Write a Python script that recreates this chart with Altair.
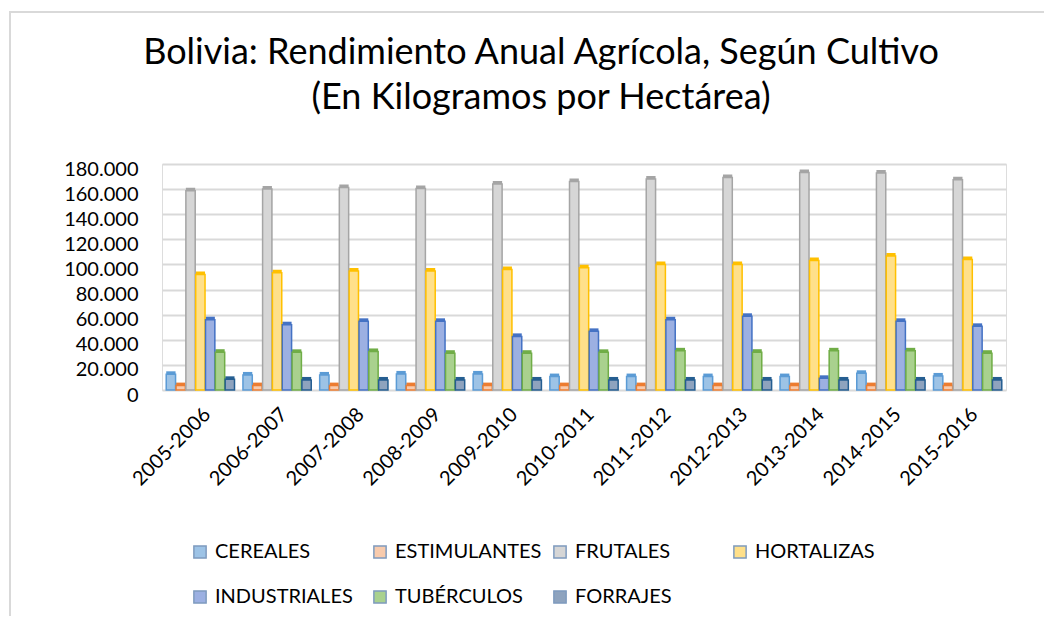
import altair as alt
import pandas as pd

periodos = ["2005-2006", "2006-2007", "2007-2008", "2008-2009", "2009-2010", "2010-2011",
            "2011-2012", "2012-2013", "2013-2014", "2014-2015", "2015-2016"]
series = ["CEREALES", "ESTIMULANTES", "FRUTALES", "HORTALIZAS", "INDUSTRIALES", "TUBÉRCULOS", "FORRAJES"]

cereales = [12500, 12000, 12000, 12800, 12800, 10700, 10700, 10700, 10700, 13300, 11200]
estimulantes = [3500, 3500, 3500, 3500, 3500, 3500, 3500, 3500, 3500, 3500, 3500]
frutales = [158700, 160000, 161300, 160500, 164000, 166000, 168000, 169300, 173300, 172800, 167500]
hortalizas = [92000, 93300, 94700, 94700, 96000, 97300, 100000, 100000, 103200, 106700, 104000]
industriales = [56000, 52000, 54700, 54700, 42700, 46700, 56000, 58700, 9300, 54700, 50700]
tuberculos = [30100, 30000, 30700, 29300, 29300, 30000, 31200, 30100, 31200, 31200, 29300]
forrajes = [8500, 8000, 8000, 8000, 8000, 8000, 8000, 8000, 8000, 8000, 8000]

light = ["#9DC3E6", "#F8CBAD", "#D6D6D6", "#FFE08A", "#9CB0E2", "#A9D18E", "#8EA3BE"]
dark = ["#5B9BD5", "#ED7D31", "#A5A5A5", "#FFC000", "#4472C4", "#70AD47", "#255E91"]

vals = [cereales, estimulantes, frutales, hortalizas, industriales, tuberculos, forrajes]
rows = []
for s, v in zip(series, vals):
    for p, x in zip(periodos, v):
        rows.append({"periodo": p, "cultivo": s, "valor": x})
df = pd.DataFrame(rows)

FONT = "Lato"

x_enc = alt.X("periodo:N", sort=periodos, title=None,
              scale=alt.Scale(paddingInner=0.11, paddingOuter=0.055),
              axis=alt.Axis(labelAngle=-45, labelFontSize=20, labelColor="#000000",
                            labelFont=FONT, ticks=False, domain=False, labelPadding=14))
y_enc = alt.Y("valor:Q", title=None,
              scale=alt.Scale(domain=[0, 180000], nice=False),
              axis=alt.Axis(values=list(range(0, 180001, 20000)), ticks=False, domain=False,
                            labelFontSize=20, labelColor="#000000", labelFont=FONT,
                            labelPadding=24, labelOffset=5,
                            gridColor="#D9D9D9", gridWidth=2,
                            labelExpr="replace(format(datum.value, ','), regexp(',', 'g'), '.')"))
xo = alt.XOffset("cultivo:N", sort=series, scale=alt.Scale(paddingInner=0.05))

back = alt.Chart(df).mark_bar(xOffset=3, yOffset=-3, strokeWidth=0).encode(
    x=x_enc, y=y_enc, xOffset=xo,
    fill=alt.Fill("cultivo:N", sort=series, scale=alt.Scale(domain=series, range=dark), legend=None),
)

front = alt.Chart(df).mark_bar(strokeWidth=1.5).encode(
    x=x_enc, y=y_enc, xOffset=xo,
    fill=alt.Fill("cultivo:N", sort=series, scale=alt.Scale(domain=series, range=light),
                  legend=alt.Legend(title=None, orient="none", legendX=28, legendY=378,
                                    direction="horizontal", columns=4, gridAlign="all",
                                    symbolType="square", symbolSize=150,
                                    symbolStrokeWidth=1.5, symbolStrokeColor="#7F9BBF",
                                    labelFontSize=20, labelFont=FONT, labelColor="#000000",
                                    labelLimit=300, columnPadding=8, rowPadding=25,
                                    labelOffset=5)),
    stroke=alt.Stroke("cultivo:N", sort=series, scale=alt.Scale(domain=series, range=dark),
                      legend=None),
)

frame = alt.Chart(alt.Data(values=[{}])).mark_rect(fill="transparent", stroke="#D9D9D9",
                                                    strokeWidth=2).encode(
    x=alt.value(-152), y=alt.value(-152), x2=alt.value(1000), y2=alt.value(700))

chart = alt.layer(frame, back, front).resolve_scale(fill="independent").properties(
    width=844, height=226,
    title=alt.TitleParams(["Bolivia: Rendimiento Anual Agrícola, Según Cultivo",
                           "(En Kilogramos por Hectárea)"],
                          fontSize=36, font=FONT, fontWeight="normal", color="#000000",
                          anchor="middle", frame="group", dx=-43, lineHeight=45,
                          baseline="bottom", offset=-142),
    autosize=alt.AutoSizeParams(type="none"),
    padding={"left": 154, "top": 156, "right": 38, "bottom": 226},
).configure_view(stroke=None).configure(background="white")

chart.save("out.html", embed_options={"renderer": "svg", "actions": False})
